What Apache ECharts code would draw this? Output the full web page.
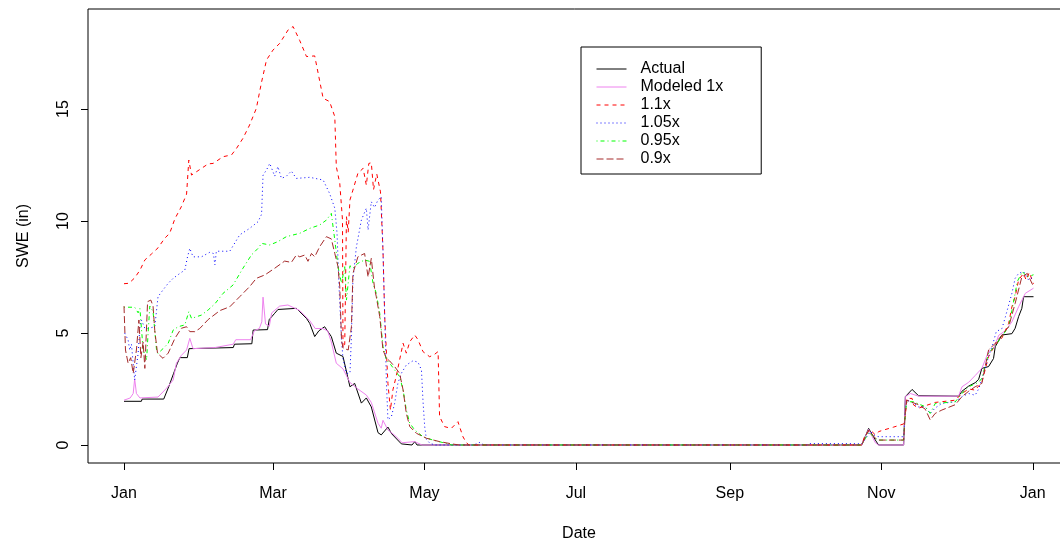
<!DOCTYPE html>
<html>
<head>
<meta charset="utf-8">
<script src="https://cdn.jsdelivr.net/npm/echarts@6/dist/echarts.min.js"></script>
<style>
html,body{margin:0;padding:0;background:#fff;}
#chart{width:1060px;height:544px;}
</style>
</head>
<body>
<div id="chart"></div>
<script>
// x values are days since Jan 1 (leap year)
const tickDays = [0, 60, 121, 182, 244, 305, 366];
const tickLabels = ['Jan', 'Mar', 'May', 'Jul', 'Sep', 'Nov', 'Jan'];
const yTicks = [0, 5, 10, 15];
const seriesNames = ['Actual', 'Modeled 1x', '1.1x', '1.05x', '0.95x', '0.9x'];

const actual = [[0,1.95],[7,1.95],[7.3,2.05],[16,2.05],[18,2.6],[20,3.2],[21.5,3.65],[22.5,3.9],[25.5,3.9],[26.2,4.3],[44,4.35],[44.5,4.5],[51.5,4.52],[52,5.13],[57.8,5.15],[58.5,5.6],[60.7,5.88],[62,6.05],[69.4,6.1],[70.8,5.95],[73.5,5.65],[74.8,5.43],[76.8,4.84],[78.5,5.1],[80.8,5.28],[83.5,4.84],[85.5,4.1],[88.2,3.95],[91,2.6],[92.9,2.75],[95.6,1.87],[97.6,2.1],[99.6,1.7],[102.3,0.55],[103.6,0.45],[106.3,0.8],[107.8,0.5],[111.7,0.05],[116,0],[117.1,0.15],[118,0],[297.1,0],[299.9,0.74],[302.6,0.22],[303.9,0],[314,0],[314.7,2.16],[317.4,2.48],[320,2.2],[336.1,2.18],[337.5,2.4],[340.2,2.63],[342.8,2.78],[344.2,2.93],[345.5,3.42],[348.2,3.5],[350.2,3.86],[350.9,4.39],[353.6,4.91],[357.6,4.97],[358.9,5.21],[360.3,5.73],[361.6,6.1],[362.3,6.62],[366.3,6.62]];

const modeled = [[0,2.0],[2.5,2.1],[3.7,2.3],[4.3,2.95],[5,2.3],[6.4,2.1],[13.7,2.14],[17.1,2.53],[19.8,2.9],[21.1,3.65],[23.1,4.0],[25.2,4.24],[26.5,4.76],[27.8,4.3],[36.6,4.35],[44,4.5],[45,4.7],[51,4.7],[52.5,5.1],[54.5,5.2],[55.5,5.5],[56,6.6],[57,5.4],[58.5,5.3],[59.5,5.9],[62.7,6.2],[66,6.25],[70.8,6.0],[74.8,5.55],[77,5.2],[80,5.2],[82,5.1],[83.5,4.6],[85.5,3.65],[88.2,3.4],[91,2.79],[94.2,2.5],[97.6,2.23],[99.6,1.9],[102.3,0.97],[103.6,0.75],[104.3,1.1],[106.3,0.67],[108.3,0.5],[110.3,0.3],[112,0.1],[117.1,0.15],[120,0],[297.1,0],[299.9,0.7],[302.6,0.1],[303.9,0],[314,0],[314.7,2.16],[316.7,2.3],[320,2.18],[336.1,2.18],[337.5,2.6],[340.2,2.8],[342.8,3.1],[345.5,3.42],[348.2,4.17],[350.2,4.3],[352.3,4.9],[355,5.1],[357.6,5.5],[360.3,6.17],[363,6.77],[366.3,7.0]];

const x110 = [[0,7.2],[2,7.22],[4.3,7.46],[6.4,7.8],[8.4,8.26],[11.1,8.53],[13.7,8.8],[16.4,9.23],[18.4,9.45],[20.5,10.1],[23.1,10.64],[25.2,11.2],[26.1,12.72],[27.2,12.05],[31.2,12.35],[33.9,12.55],[35.9,12.57],[39.9,12.87],[43.3,12.95],[45.3,13.24],[47.9,13.69],[50.6,14.29],[53.3,15.03],[55.4,16.2],[57.4,17.19],[60,17.63],[62.7,17.93],[66.1,18.53],[68.1,18.68],[70.8,18.05],[73.5,17.34],[76.8,17.37],[80.2,15.48],[82.8,15.33],[84.9,14.66],[85.5,12.43],[86.9,11.68],[88,10.04],[88.2,4.33],[88.9,4.5],[89.6,10.19],[90.3,9.5],[91,10.94],[92.2,11.38],[94.2,12.13],[96.3,12.35],[97.6,11.6],[98.6,12.57],[99.6,12.6],[100.5,11.4],[101.8,12.1],[103.3,11.3],[104.3,8.7],[105,5.73],[106.3,2.75],[107.3,1.56],[108.3,2.46],[109.7,3.1],[111,3.8],[112.4,4.54],[113.7,4.1],[115.1,4.61],[117.1,4.91],[118.4,4.7],[120.4,4.17],[123.1,3.94],[125.1,4.05],[126.5,4.17],[127.1,1.27],[129.1,0.82],[131.8,0.74],[134.5,1.04],[136.5,0.37],[137.9,0.1],[139,0],[297.1,0],[298.5,0.45],[300.6,0.67],[302.6,0.45],[304,0.6],[306,0.67],[310,0.8],[314,0.94],[314.7,1.3],[315.3,2.08],[317.4,2.08],[318,1.79],[320,1.64],[322.7,1.75],[326.7,1.9],[334.8,2.0],[337.5,2.3],[340.2,2.5],[342.8,2.45],[345.5,2.8],[348.2,3.94],[350.9,4.5],[353.6,4.78],[356.3,5.43],[357.6,6.17],[358.9,6.62],[360.3,7.37],[362.3,7.66],[363.3,7.37],[364.6,7.7],[366.3,7.2]];

const x105 = [[0.3,4.99],[1.65,4.69],[2.3,4.24],[3.0,4.5],[3.7,3.65],[4.3,2.9],[5.7,4.1],[6.4,5.28],[7.0,5.58],[8.4,5.21],[9.7,5.2],[12.4,5.28],[13.7,6.62],[15.7,6.92],[17.8,7.22],[19.8,7.44],[22.5,7.66],[24.5,7.81],[25.6,8.41],[26.5,8.78],[27.8,8.4],[31.2,8.4],[34.5,8.6],[36,8.55],[36.6,8.04],[37.2,8.65],[42.6,8.65],[46.6,9.38],[50.6,9.67],[54,9.97],[55.4,10.3],[56,12.05],[57.4,12.28],[58.7,12.57],[60.7,12.0],[62,12.43],[63.4,11.9],[65.4,12.0],[67.4,12.23],[69.4,11.9],[74.8,11.95],[80.2,11.83],[82.8,11.23],[84.9,10.57],[85.8,9.45],[86.6,7.07],[87.6,4.69],[88.2,3.85],[89.6,3.2],[91,3.2],[91.6,4.84],[92.2,7.37],[93.6,8.85],[95.6,10.04],[97.6,10.57],[98.3,9.6],[99.6,10.86],[100.9,10.6],[102.3,10.94],[103.6,11.08],[104.3,8.7],[105,5.73],[105.7,2.75],[106.3,1.12],[107.7,1.27],[109,1.86],[110.3,2.75],[111.7,3.2],[113.7,3.57],[116.4,3.76],[118.4,3.7],[119.8,3.35],[120.4,2.0],[121.1,0.82],[121.8,0.25],[123,0.1],[125,0],[141,0],[143,0.12],[145,0],[275,0],[276,0.06],[293,0.06],[297.1,0.05],[298.5,0.25],[300.6,0.6],[302.6,0.4],[304,0.37],[314,0.37],[314.7,1.5],[315.3,2.0],[316.7,1.95],[318,1.86],[320,1.7],[322.7,1.7],[324.7,1.41],[326.7,1.65],[329.4,1.86],[334.8,1.93],[337.5,2.16],[340.2,2.3],[342.8,2.22],[344.2,2.5],[345.9,3.07],[348.2,3.95],[349.9,4.5],[351.3,5.06],[353.6,5.2],[355,5.73],[356.3,6.25],[357.6,6.77],[358.9,7.44],[360.3,7.66],[362.3,7.74],[364.3,7.37],[366.3,7.5]];

const x095 = [[0,6.15],[4.3,6.15],[5.7,5.9],[6.4,6.1],[7.7,4.24],[9.1,3.8],[9.7,4.99],[10.4,6.2],[11.7,5.96],[13.1,4.24],[13.7,4.09],[15.7,4.3],[17.8,4.54],[19.8,5.13],[21.8,5.28],[24.5,5.36],[26.1,5.95],[27.2,5.65],[31.2,5.8],[33.9,6.03],[36.6,6.3],[39.9,6.77],[43.9,7.14],[47.9,7.89],[51.3,8.48],[54,8.78],[55.4,9.0],[58.7,8.93],[62,9.08],[65.4,9.3],[70.8,9.45],[74.8,9.67],[78.8,9.82],[81.5,10.04],[83.5,10.34],[84.9,9.15],[86.2,7.96],[87.6,7.22],[88.9,7.96],[89.6,6.47],[91,8.0],[92.2,7.9],[94.2,8.11],[96.9,8.26],[98.9,8.2],[100.3,7.22],[101.6,6.77],[103,5.88],[104.3,4.39],[105.7,3.8],[107,3.65],[109,3.35],[111,3.05],[112.4,2.46],[113.7,1.56],[115.1,0.97],[117.1,0.67],[120.4,0.37],[124.4,0.22],[129.8,0.07],[132,0],[297.1,0],[299.9,0.57],[302.6,0.3],[304,0.22],[314,0.22],[314.7,1.5],[315.3,1.93],[318,1.93],[322.7,1.71],[324.7,1.41],[326.7,1.85],[334.8,1.93],[337.5,2.31],[340.2,2.6],[344.2,2.8],[345.5,2.98],[348.2,4.09],[350.9,4.45],[353.6,4.85],[356.3,5.28],[357.6,6.0],[359.8,7.3],[361.8,7.74],[363.8,7.5],[366.3,7.6]];

const x090 = [[0,6.2],[0.6,4.24],[1.65,3.65],[2.7,3.9],[3.7,3.2],[5.0,4.24],[6.0,5.58],[6.8,3.9],[7.7,4.6],[8.4,3.42],[9.5,6.4],[10.8,6.47],[11.7,6.2],[12.4,5.1],[13.5,4.09],[15.7,3.87],[17.8,4.1],[20.5,4.76],[23.1,5.21],[25.2,5.28],[26.5,5.06],[28.5,5.06],[30.5,5.2],[33.9,5.6],[38.6,6.0],[42.6,6.17],[46.6,6.62],[50.6,7.07],[53.3,7.44],[56.7,7.59],[60.7,7.89],[64.7,8.21],[67.4,8.15],[69.4,8.48],[70.8,8.4],[72.8,8.48],[74.1,8.2],[75.5,8.55],[76.8,8.4],[78.8,8.85],[81.5,9.3],[83.5,9.2],[84.9,8.55],[86.2,7.96],[86.9,7.07],[87.6,4.69],[88.2,4.33],[90.3,4.24],[91.6,5.28],[92.2,7.66],[94.2,8.4],[96.9,8.55],[98.3,7.5],[99.6,8.33],[100.9,7.0],[101.6,6.62],[103,5.73],[104.3,4.24],[105.7,3.87],[107,3.75],[109,3.5],[111,3.2],[112.4,2.46],[113.7,1.41],[115.1,0.82],[117.8,0.52],[121.8,0.3],[127.1,0.15],[132,0.05],[135,0],[297.1,0],[299.9,0.67],[302.6,0.3],[304,0.22],[314,0.22],[314.7,1.5],[315.3,2.0],[316.7,1.93],[320,1.8],[322.7,1.6],[324.7,1.12],[326.7,1.41],[329.4,1.56],[334.8,1.8],[337.5,2.16],[340.2,2.4],[342.8,2.6],[345.5,2.75],[348.2,4.24],[350.9,4.54],[353.6,4.91],[356.3,5.28],[358.9,6.32],[361.6,7.5],[363.8,7.66],[366.3,7.07]];

const seriesData = [actual, modeled, x110, x105, x095, x090];
const colors = ['#000000', '#EE82EE', '#FF0000', '#0000FF', '#00FF00', '#A52A2A'];
const dashes = ['solid', 'solid', [4, 4], [1, 3], [1, 3, 4, 3], [7, 3]];

const FONT = '"Liberation Sans", Arial, sans-serif';
const chart = echarts.init(document.getElementById('chart'), null, {renderer: 'canvas'});

chart.setOption({
  animation: false,
  backgroundColor: '#ffffff',
  grid: {
    left: 88, top: 9, width: 982, height: 454,
    outerBoundsMode: 'none', containLabel: false,
    show: true, borderColor: '#000', borderWidth: 1, backgroundColor: 'transparent'
  },
  legend: {
    orient: 'vertical',
    left: 581, top: 47,
    padding: [13, 38, 6, 15],
    itemWidth: 30, itemHeight: 15, itemGap: 0,
    borderColor: '#000', borderWidth: 1, borderRadius: 0,
    backgroundColor: '#fff',
    itemStyle: {opacity: 0, borderWidth: 0},
    lineStyle: {width: 1},
    textStyle: {fontFamily: FONT, fontSize: 16, color: '#000', lineHeight: 18, padding: [0, 0, 0, 9]},
    data: seriesNames
  },
  xAxis: {
    type: 'value', min: -14.5, max: 381,
    name: 'Date', nameLocation: 'middle', nameGap: 63,
    nameTextStyle: {fontFamily: FONT, fontSize: 16, color: '#000'},
    axisLine: {show: false, onZero: false},
    axisTick: {show: true, length: 7, lineStyle: {color: '#000'}, customValues: tickDays},
    axisLabel: {
      fontFamily: FONT, fontSize: 16, color: '#000', margin: 23,
      customValues: tickDays,
      formatter: v => tickLabels[tickDays.indexOf(Math.round(v))] || ''
    },
    splitLine: {show: false}
  },
  yAxis: {
    type: 'value', min: -0.804, max: 19.464,
    name: 'SWE (in)', nameLocation: 'middle', nameGap: 56, nameRotate: 90,
    nameTextStyle: {fontFamily: FONT, fontSize: 16, color: '#000'},
    axisLine: {show: false, onZero: false},
    axisTick: {show: true, length: 7, lineStyle: {color: '#000'}, customValues: yTicks},
    axisLabel: {
      fontFamily: FONT, fontSize: 16, color: '#000', margin: 16, rotate: 90,
      customValues: yTicks
    },
    splitLine: {show: false}
  },
  series: seriesNames.map((name, i) => ({
    name: name,
    type: 'line',
    data: seriesData[i],
    symbol: 'none',
    showSymbol: false,
    silent: true,
    lineStyle: {color: colors[i], width: 1, type: dashes[i]},
    itemStyle: {color: colors[i]}
  }))
});
</script>
</body>
</html>
